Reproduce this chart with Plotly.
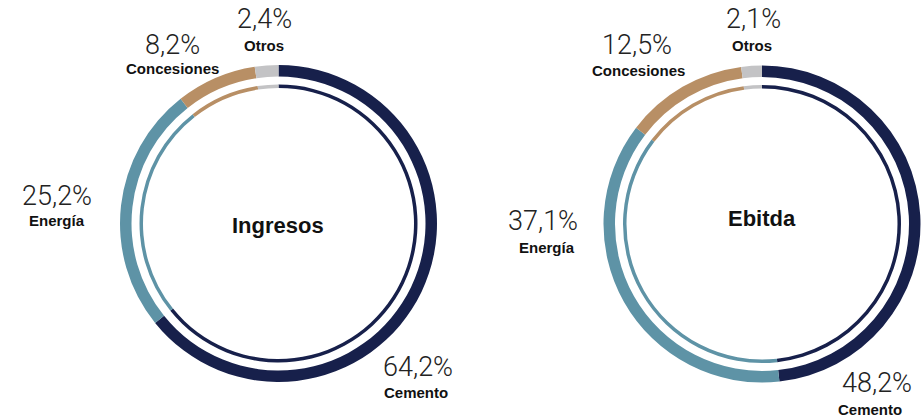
import plotly.graph_objects as go

W, H = 921, 417

# Segment data
categories = ["Cemento", "Energía", "Concesiones", "Otros"]
ingresos = [64.2, 25.2, 8.2, 2.4]
ebitda = [48.2, 37.1, 12.5, 2.1]
ingresos_labels = ["64,2%", "25,2%", "8,2%", "2,4%"]
ebitda_labels = ["48,2%", "37,1%", "12,5%", "2,1%"]
titles = ["Ingresos", "Ebitda"]

colors = ["#17204b", "#5e93a6", "#b88f65", "#c3c3c5"]

# Layout (pixel geometry)
centers = [(278.5, 223.5), (762, 224)]
outer_r, outer_in = 158.5, 147
inner_r, inner_in = 139, 135.5

# Label centres in pixels: (percent x, percent y, name x, name y)
label_pos = [
    [(418, 367, 416, 392), (57, 196, 57, 220), (172, 45, 172, 69), (264, 19, 264, 46)],
    [(877, 383, 870, 409), (543, 221, 547, 247), (637, 45, 638, 70), (753, 19, 752, 46)],
]
title_pos = [(278, 225), (762, 218)]


def px(x):
    return x / W


def py(y):
    return 1 - y / H


fig = go.Figure()

for (cx, cy), vals in zip(centers, [ingresos, ebitda]):
    for r, r_in in [(outer_r, outer_in), (inner_r, inner_in)]:
        fig.add_trace(go.Pie(
            values=vals,
            labels=categories,
            sort=False,
            direction="clockwise",
            rotation=0,
            hole=r_in / r,
            marker=dict(colors=colors, line=dict(width=0)),
            textinfo="none",
            hoverinfo="label+percent",
            showlegend=False,
            domain=dict(x=[px(cx - r), px(cx + r)], y=[py(cy + r), py(cy - r)]),
        ))

annotations = []
for ci, pcts in enumerate([ingresos_labels, ebitda_labels]):
    for k, name in enumerate(categories):
        x1, y1, x2, y2 = label_pos[ci][k]
        annotations.append(dict(
            x=px(x1), y=py(y1), xref="paper", yref="paper",
            text=pcts[k], showarrow=False, xanchor="center", yanchor="middle",
            font=dict(family="Roboto", size=27, weight=300, color="#222222"),
        ))
        annotations.append(dict(
            x=px(x2), y=py(y2), xref="paper", yref="paper",
            text="<b>" + name + "</b>", showarrow=False, xanchor="center", yanchor="middle",
            font=dict(family="Liberation Sans Narrow, Liberation Sans", size=15, color="#111111"),
        ))
    tx, ty = title_pos[ci]
    annotations.append(dict(
        x=px(tx), y=py(ty), xref="paper", yref="paper",
        text="<b>" + titles[ci] + "</b>", showarrow=False, xanchor="center", yanchor="middle",
        font=dict(family="Liberation Sans", size=22, color="#111111"),
    ))

fig.update_layout(
    width=W, height=H,
    margin=dict(l=0, r=0, t=0, b=0),
    paper_bgcolor="white",
    plot_bgcolor="white",
    annotations=annotations,
)

fig.write_html("out.html")
